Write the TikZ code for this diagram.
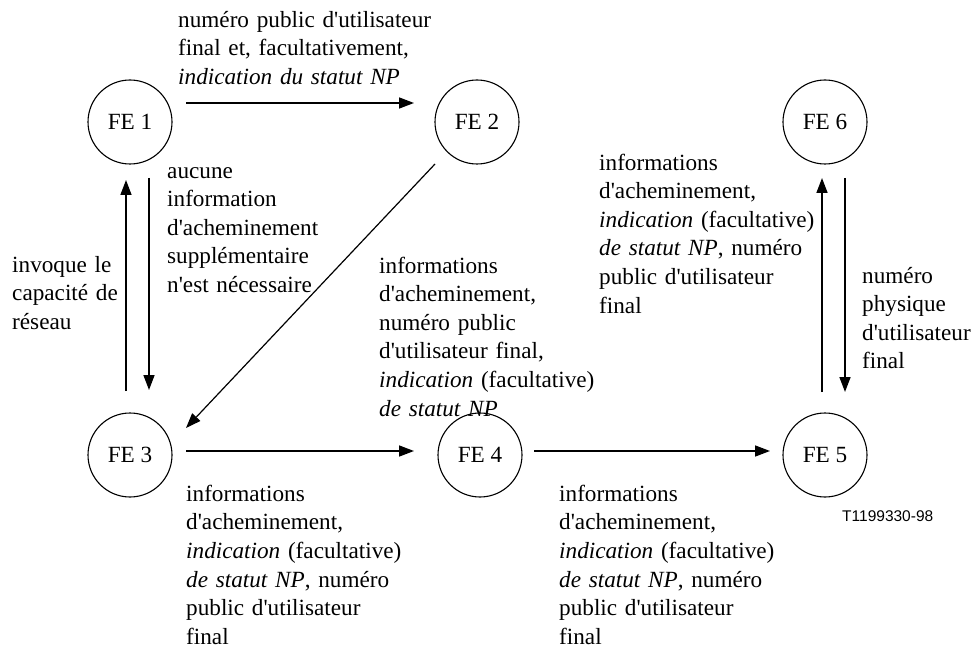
\documentclass[tikz,border=0pt]{standalone}
\usetikzlibrary{arrows.meta}
\font\rmf="Liberation Serif" at 23.2pt
\font\itf="Liberation Serif/I" at 23.2pt
\font\sff="Liberation Sans" at 15.5pt
\begin{document}
\begin{tikzpicture}[x=1pt,y=-1pt,
  fe/.style={draw, circle, minimum size=84pt, inner sep=0pt, line width=1.1pt, font=\rmf},
  arr/.style={line width=1.6pt, -{Triangle[length=15pt,width=11pt]}},
  thinarr/.style={line width=1.2pt, -{Triangle[length=15pt,width=11pt]}},
  lbl/.style={anchor=north west, inner sep=0pt, text width=330pt, align=left,
              font={\rmf\parindent=0pt\baselineskip=28.6pt}},
  code/.style={anchor=base west, inner sep=0pt, font=\sff}]
\useasboundingbox (0,0) rectangle (975,647);
\node[fe] (fe1) at (130,122) {FE 1};
\node[fe] (fe2) at (477,122) {FE 2};
\node[fe] (fe6) at (825,122) {FE 6};
\node[fe] (fe3) at (130,455) {FE 3};
\node[fe] (fe4) at (480,455) {FE 4};
\node[fe] (fe5) at (825,455) {FE 5};
% connectors
\draw[arr] ([shift={(56,-19)}]fe1.center) -- ([shift={(-63,-19)}]fe2.center);
\draw[thinarr] ([shift={(-42,42)}]fe2.center) -- ([shift={(56,-27)}]fe3.center);
\draw[arr] ([shift={(-4,-64)}]fe3.center) -- ([shift={(-4,58)}]fe1.center);
\draw[arr] ([shift={(19,56)}]fe1.center) -- ([shift={(19,-65)}]fe3.center);
\draw[arr] ([shift={(56,-4)}]fe3.center) -- ([shift={(-66,-4)}]fe4.center);
\draw[arr] ([shift={(54,-4)}]fe4.center) -- ([shift={(-55,-4)}]fe5.center);
\draw[arr] ([shift={(-3,-63)}]fe5.center) -- ([shift={(-3,56)}]fe6.center);
\draw[arr] ([shift={(20,56)}]fe6.center) -- ([shift={(20,-63)}]fe5.center);
% labels
\node[lbl] (t1) at (178,7) {\rule{0pt}{20pt}numéro public d'utilisateur\\final et, facultativement,\\{\itf indication du statut NP}};
\node[lbl] (t2) at (167,158) {\rule{0pt}{20pt}aucune\\information\\d'acheminement\\supplémentaire\\n'est nécessaire};
\node[lbl] (t3) at (12,252) {\rule{0pt}{20pt}invoque le\\capacité de\\réseau};
\node[lbl] (t4) at (379,253) {\rule{0pt}{20pt}informations\\d'acheminement,\\numéro public\\d'utilisateur final,\\{\itf indication} (facultative)\\{\itf de statut NP}};
\node[lbl] (t5) at (599,150) {\rule{0pt}{20pt}informations\\d'acheminement,\\{\itf indication} (facultative)\\{\itf de statut NP}, numéro\\public d'utilisateur\\final};
\node[lbl] (t6) at (862,263) {\rule{0pt}{20pt}numéro\\physique\\d'utilisateur\\final};
\node[lbl] (t7) at (186,481) {\rule{0pt}{20pt}informations\\d'acheminement,\\{\itf indication} (facultative)\\{\itf de statut NP}, numéro\\public d'utilisateur\\final};
\node[lbl] (t8) at (559,481) {\rule{0pt}{20pt}informations\\d'acheminement,\\{\itf indication} (facultative)\\{\itf de statut NP}, numéro\\public d'utilisateur\\final};
\node[code] (t9) at (842,521) {T1199330-98};
\end{tikzpicture}
\end{document}
